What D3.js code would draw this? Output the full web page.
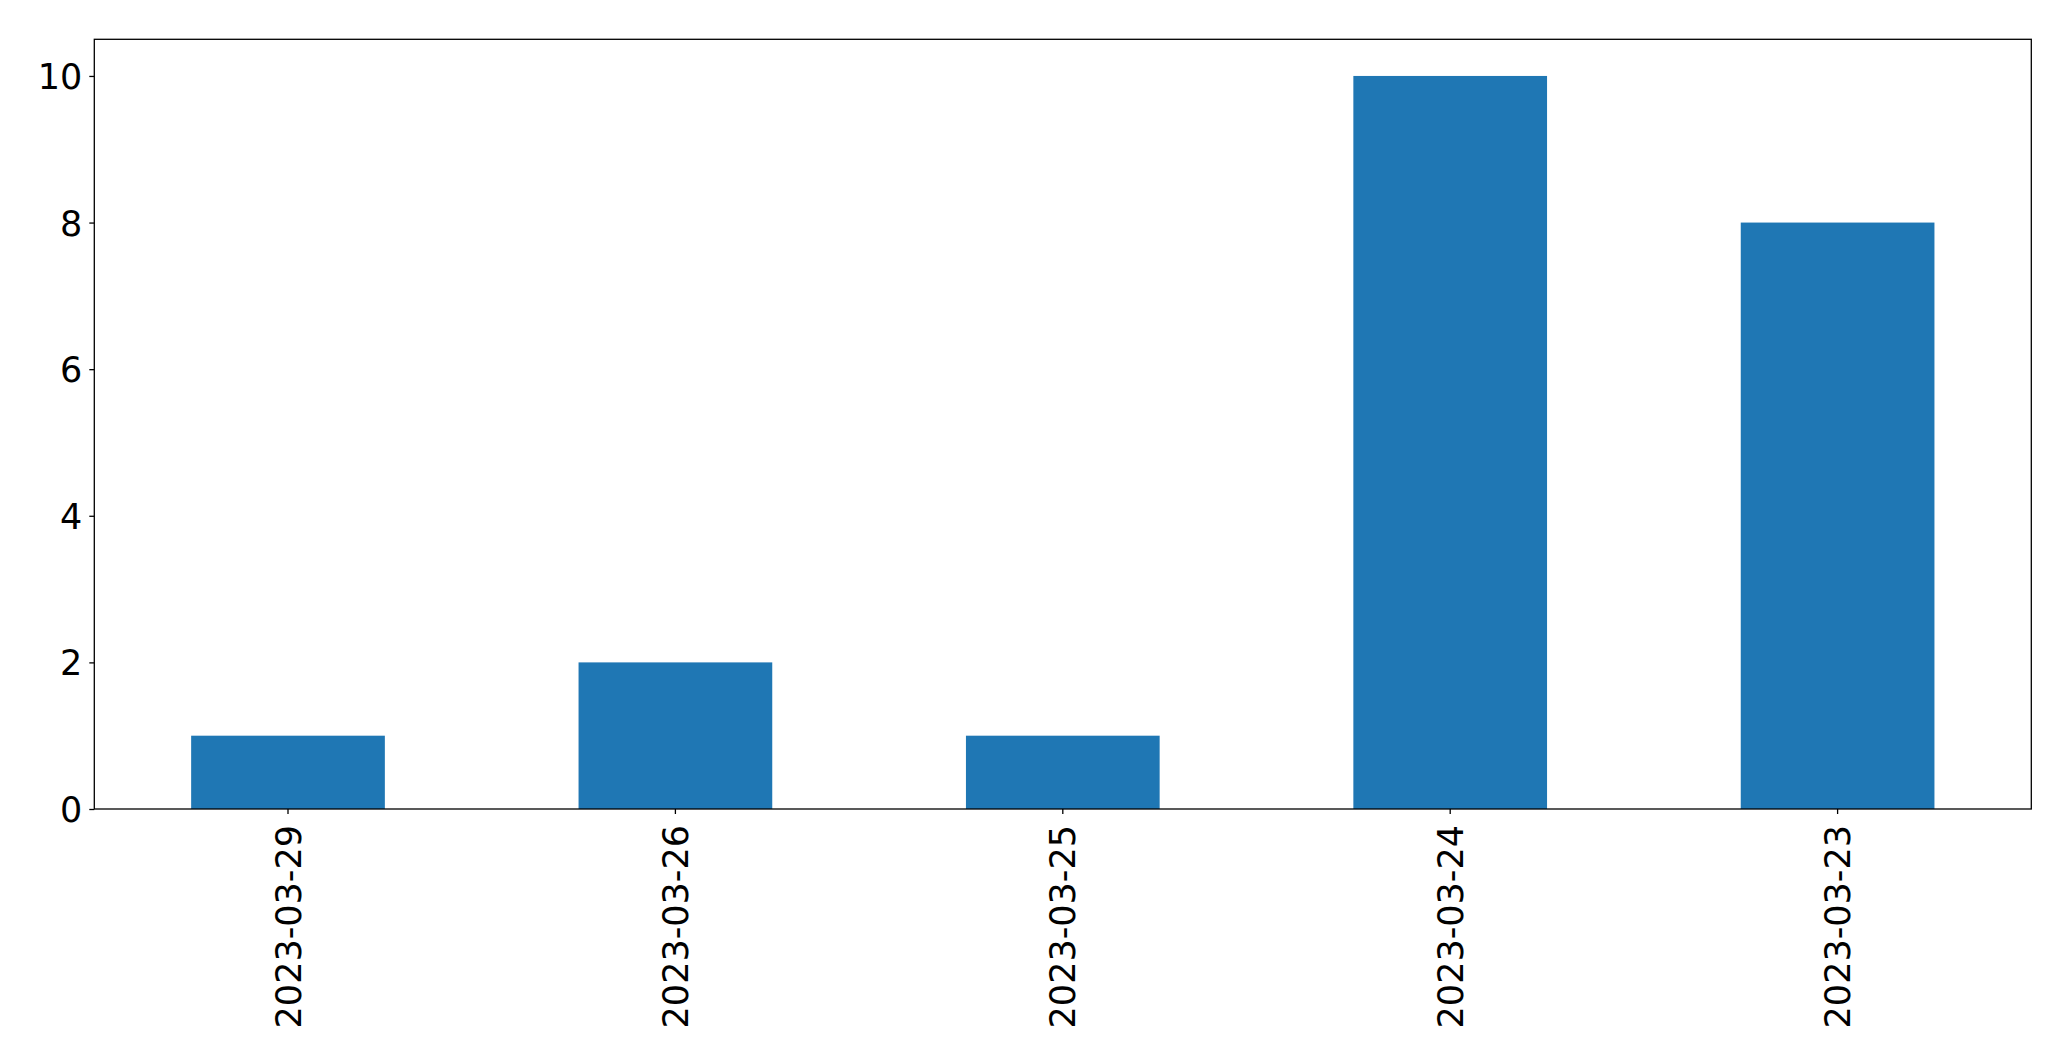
<!DOCTYPE html>
<html>
<head>
<meta charset="utf-8">
<script src="https://cdn.jsdelivr.net/npm/d3@7"></script>
<style>
  html, body { margin: 0; padding: 0; background: #fff; }
  svg { display: block; }
  text { font-family: "DejaVu Sans", sans-serif; fill: #000; }
</style>
</head>
<body>
<script>
const categories = ["2023-03-29", "2023-03-26", "2023-03-25", "2023-03-24", "2023-03-23"];
const values = [1, 2, 1, 10, 8];
const yTicks = [0, 2, 4, 6, 8, 10];

const W = 2071, H = 1061;
const mLeft = 94.3, mRight = 2031.3, mTop = 39.3, mBottom = 809;
const fontSize = 35;

const svg = d3.select("body").append("svg").attr("width", W).attr("height", H);

const x = d3.scaleBand().domain(categories).range([mLeft, mRight]).paddingInner(0.5).paddingOuter(0.25);
const y = d3.scaleLinear().domain([0, 10.5]).range([mBottom, mTop]);

svg.append("g").selectAll("rect").data(values).join("rect")
  .attr("x", (d, i) => x(categories[i]))
  .attr("width", x.bandwidth())
  .attr("y", d => y(d))
  .attr("height", d => y(0) - y(d))
  .attr("fill", "#1f77b4");

// y axis
const yAxis = svg.append("g").attr("transform", `translate(${mLeft},0)`)
  .call(d3.axisLeft(y).tickValues(yTicks).tickFormat(d3.format("d")).tickSize(5).tickPadding(7));
yAxis.select(".domain").remove();
yAxis.selectAll(".tick line").attr("stroke", "#000").attr("stroke-width", 1.3);
yAxis.selectAll(".tick text").attr("font-size", fontSize).attr("font-family", "DejaVu Sans").attr("dy", "0.36em");

// x axis
const xAxis = svg.append("g").attr("transform", `translate(0,${mBottom})`)
  .call(d3.axisBottom(x).tickSize(5).tickPadding(0));
xAxis.select(".domain").remove();
xAxis.selectAll(".tick line").attr("stroke", "#000").attr("stroke-width", 1.3);
xAxis.selectAll(".tick text")
  .attr("font-size", fontSize).attr("font-family", "DejaVu Sans")
  .attr("text-anchor", "end")
  .attr("transform", "translate(0,16) rotate(-90)")
  .attr("x", 0).attr("y", 0).attr("dy", "0.36em");

// frame
svg.append("rect")
  .attr("x", mLeft).attr("y", mTop)
  .attr("width", mRight - mLeft).attr("height", mBottom - mTop)
  .attr("fill", "none").attr("stroke", "#000").attr("stroke-width", 1.3);
</script>
</body>
</html>
